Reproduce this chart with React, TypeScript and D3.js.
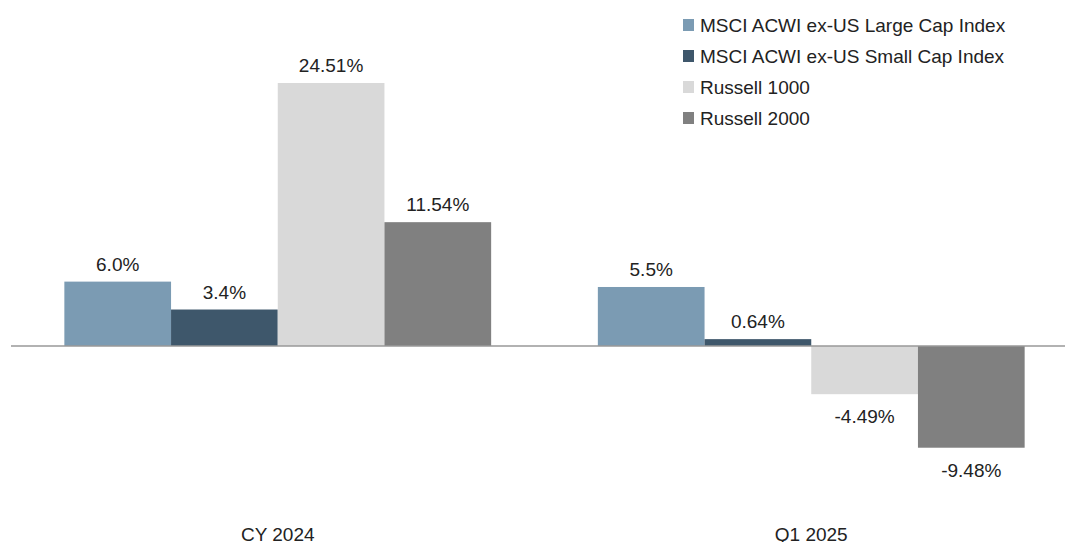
// @ts-nocheck
import React from 'react';
import * as d3 from 'd3';

const categories = ['CY 2024', 'Q1 2025'];
const seriesNames = [
  'MSCI ACWI ex-US Large Cap Index',
  'MSCI ACWI ex-US Small Cap Index',
  'Russell 1000',
  'Russell 2000',
];
const largeCap = [6.0, 5.5];
const smallCap = [3.4, 0.64];
const russell1000 = [24.51, -4.49];
const russell2000 = [11.54, -9.48];
const valueLabels = [
  ['6.0%', '5.5%'],
  ['3.4%', '0.64%'],
  ['24.51%', '-4.49%'],
  ['11.54%', '-9.48%'],
];
const colors = ['#7b9bb3', '#3e576b', '#d9d9d9', '#808080'];

const W = 1065, H = 542;

export default function App() {
  const series = [largeCap, smallCap, russell1000, russell2000];

  // group bands across the plot
  const x0 = d3.scaleBand().domain(categories).range([11, 1078]).paddingInner(0.2).paddingOuter(0.1);
  const x1 = d3.scaleBand().domain(seriesNames).range([0, x0.bandwidth()]);
  const y = d3.scaleLinear().domain([0, 24.51]).range([346, 83]);

  const font = '"Liberation Sans", Arial, sans-serif';

  return (
    <svg width={W} height={H} style={{ position: 'absolute', left: 0, top: 0 }}>
      <rect width={W} height={H} fill="#fff" />
      {categories.map((c, ci) => (
        <g key={c} transform={`translate(${x0(c)},0)`}>
          {series.map((vals, si) => {
            const v = vals[ci];
            const bx = x1(seriesNames[si]);
            const top = y(Math.max(0, v));
            const h = Math.abs(y(v) - y(0));
            return (
              <g key={si}>
                <rect x={bx} y={top} width={x1.bandwidth()} height={h} fill={colors[si]} />
                <text
                  x={bx + x1.bandwidth() / 2}
                  y={v >= 0 ? y(v) - 11 : y(v) + 29}
                  textAnchor="middle"
                  fontFamily={font}
                  fontSize={19}
                  fill="#222"
                >
                  {valueLabels[si][ci]}
                </text>
              </g>
            );
          })}
        </g>
      ))}
      <line x1={11} x2={W} y1={y(0)} y2={y(0)} stroke="#999" strokeWidth={1.5} />
      {categories.map((c) => (
        <text key={c} x={x0(c) + x0.bandwidth() / 2} y={541} textAnchor="middle"
          fontFamily={font} fontSize={19} fill="#222">
          {c}
        </text>
      ))}
      {seriesNames.map((n, i) => (
        <g key={n} transform={`translate(683,${19 + i * 31})`}>
          <rect width={11} height={12} fill={colors[i]} />
          <text x={17} y={12.5} fontFamily={font} fontSize={19} fill="#222">{n}</text>
        </g>
      ))}
    </svg>
  );
}
